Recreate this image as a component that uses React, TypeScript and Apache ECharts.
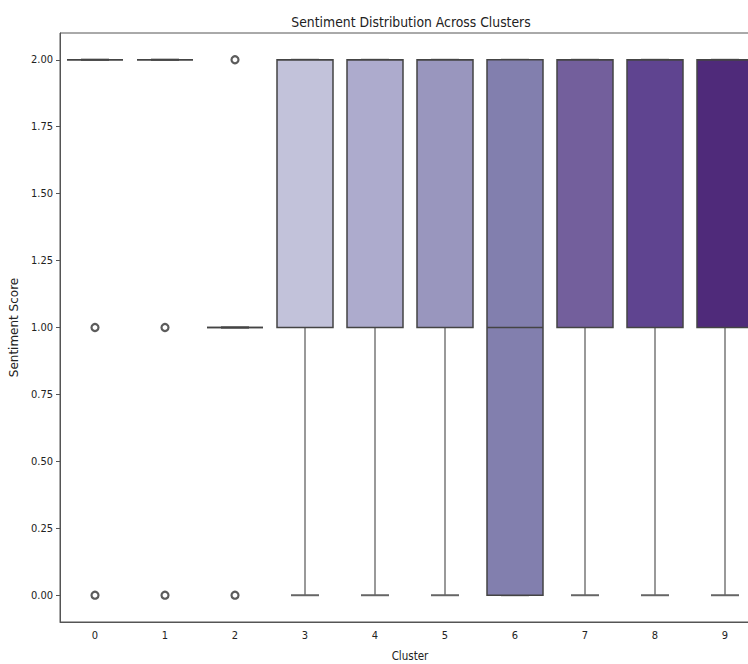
import React, { useEffect, useRef } from "react";
import * as echarts from "echarts";

const clusters = ["0", "1", "2", "3", "4", "5", "6", "7", "8", "9"];
const whiskerLow = [2, 2, 1, 0, 0, 0, 0, 0, 0, 0];
const q1 = [2, 2, 1, 1, 1, 1, 0, 1, 1, 1];
const median = [2, 2, 1, 2, 2, 2, 1, 2, 2, 2];
const q3 = [2, 2, 1, 2, 2, 2, 2, 2, 2, 2];
const whiskerHigh = [2, 2, 1, 2, 2, 2, 2, 2, 2, 2];
const outlierCluster = [0, 0, 1, 1, 2, 2];
const outlierValue = [1, 0, 1, 0, 2, 0];
const boxColors = [
  "#e6e4ef", "#d9d8ea", "#cdcde3", "#c2c2da", "#adabcd",
  "#9996be", "#827fae", "#735f9c", "#5f4490", "#4f2a7a",
];
const yTicks = [0, 0.25, 0.5, 0.75, 1.0, 1.25, 1.5, 1.75, 2.0];

const FONT = "'DejaVu Sans Condensed', 'DejaVu Sans', sans-serif";

export default function App() {
  const ref = useRef<HTMLDivElement>(null);
  useEffect(() => {
    document.body.style.margin = "0";
    if (!ref.current) return;
    const chart = echarts.init(ref.current, undefined, { renderer: "svg" });
    const boxData = clusters.map((_, i) => [i, whiskerLow[i], q1[i], median[i], q3[i], whiskerHigh[i]]);
    const outData = outlierCluster.map((c, i) => [c, outlierValue[i]]);
    chart.setOption({
      animation: false,
      backgroundColor: "#ffffff",
      title: {
        text: "Sentiment Distribution Across Clusters",
        left: 406,
        top: 10,
        textAlign: "center",
        textStyle: { fontFamily: FONT, fontSize: 13.8, fontWeight: "normal", color: "#222" },
      },
      grid: {
        left: 60,
        top: 33,
        width: 700,
        height: 589,
        outerBoundsMode: "none",
        containLabel: false,
        show: true,
        borderColor: "#555",
        borderWidth: 1,
        backgroundColor: "transparent",
      },
      xAxis: {
        type: "category",
        data: clusters,
        boundaryGap: true,
        name: "Cluster",
        nameLocation: "middle",
        nameGap: 28,
        nameTextStyle: { fontFamily: FONT, fontSize: 11.5, color: "#222" },
        axisLine: { onZero: false, lineStyle: { color: "#555", width: 1 } },
        axisTick: { alignWithLabel: true, length: 4, lineStyle: { color: "#555" } },
        axisLabel: { fontFamily: FONT, fontSize: 11, color: "#222", margin: 8 },
        splitLine: { show: false },
      },
      yAxis: {
        type: "value",
        min: -0.1,
        max: 2.1,
        name: "Sentiment Score",
        nameLocation: "middle",
        nameGap: 36,
        nameTextStyle: { fontFamily: "'DejaVu Sans', sans-serif", fontSize: 12, color: "#222" },
        axisLine: { show: true, lineStyle: { color: "#555", width: 1 } },
        axisTick: { show: true, length: 4, lineStyle: { color: "#555" }, customValues: yTicks },
        axisLabel: {
          fontFamily: FONT,
          fontSize: 11,
          color: "#222",
          margin: 7,
          customValues: yTicks,
          formatter: (v: number) => v.toFixed(2),
        },
        splitLine: { show: false },
      },
      series: [
        {
          type: "custom",
          data: boxData,
          encode: { x: 0, y: [1, 2, 3, 4, 5] },
          renderItem: (params: any, api: any) => {
            const idx = api.value(0);
            const band = api.size([1, 0])[0];
            const bw = band * 0.8;
            const cw = bw * 0.5;
            const pLow = api.coord([idx, api.value(1)]);
            const pQ1 = api.coord([idx, api.value(2)]);
            const pMed = api.coord([idx, api.value(3)]);
            const pQ3 = api.coord([idx, api.value(4)]);
            const pHigh = api.coord([idx, api.value(5)]);
            const cx = pQ1[0];
            const lineStyle = { stroke: "#555", lineWidth: 1.2 };
            const boxStroke = { stroke: "#444", lineWidth: 1.5 };
            return {
              type: "group",
              children: [
                { type: "line", shape: { x1: cx, y1: pQ1[1], x2: cx, y2: pLow[1] }, style: lineStyle },
                { type: "line", shape: { x1: cx, y1: pQ3[1], x2: cx, y2: pHigh[1] }, style: lineStyle },
                { type: "line", shape: { x1: cx - cw / 2, y1: pLow[1], x2: cx + cw / 2, y2: pLow[1] }, style: { stroke: "#666", lineWidth: 2 } },
                { type: "line", shape: { x1: cx - cw / 2, y1: pHigh[1], x2: cx + cw / 2, y2: pHigh[1] }, style: { stroke: "#666", lineWidth: 2 } },
                {
                  type: "rect",
                  shape: { x: cx - bw / 2, y: pQ3[1], width: bw, height: Math.max(pQ1[1] - pQ3[1], 0) },
                  style: { fill: boxColors[idx], ...boxStroke },
                },
                { type: "line", shape: { x1: cx - bw / 2, y1: pMed[1], x2: cx + bw / 2, y2: pMed[1] }, style: { stroke: "#444", lineWidth: 1.5 } },
              ],
            };
          },
          z: 2,
        },
        {
          type: "scatter",
          data: outData,
          symbol: "circle",
          symbolSize: 7,
          itemStyle: { color: "#ffffff", borderColor: "#333", borderWidth: 2.2 },
          z: 3,
        },
      ],
    });
    return () => chart.dispose();
  }, []);
  return <div ref={ref} style={{ width: 748, height: 664 }} />;
}
